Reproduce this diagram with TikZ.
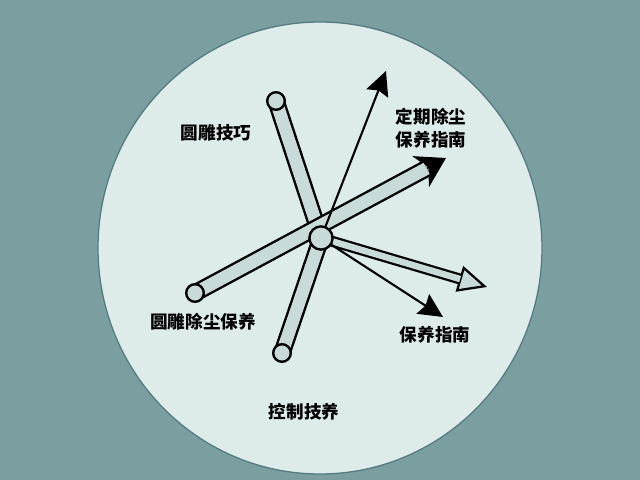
\documentclass[tikz,border=0pt]{standalone}
\usepackage{fontspec}
\newfontfamily\cjk{Noto Sans CJK SC}
\usetikzlibrary{arrows.meta,calc,backgrounds}
\definecolor{bgteal}{HTML}{7B9EA1}
\definecolor{platefill}{HTML}{DDECEB}
\definecolor{plateedge}{HTML}{557A7D}
\definecolor{rodfill}{HTML}{C9DADB}

\begin{document}
\begin{tikzpicture}[x=0.025cm, y=-0.025cm,
    rod/.style={double=rodfill, double distance=9pt, line width=1.7pt},
    thinrod/.style={double=rodfill, double distance=4.6pt, line width=1.6pt},
    pin/.style={circle, draw, line width=1.7pt, fill=rodfill, inner sep=0pt, minimum size=0.44cm},
    lbl/.style={font=\cjk\bfseries\fontsize{12.5}{16.5}\selectfont, align=center},
    pointer/.style={line width=1.5pt, -{Stealth[length=0.6cm, width=0.58cm, inset=0.08cm]}}]
      % hub and rod ends
      \node[pin, minimum size=0.58cm] (0) at (321,238) {};
      \node[pin] (1) at (276,101) {};
      \node[pin] (2) at (195,293) {};
      \node[pin] (3) at (282,353) {};

      % free ends of the arrows
      \coordinate (up) at (386,71);
      \coordinate (ne) at (446,158);
      \coordinate (east) at (487,287);
      \coordinate (se) at (443,317);

      \node[lbl] (skill) at (216,133) {圆雕技巧};
      \node[lbl] (guide) at (431,128) {定期除尘\\保养指南};
      \node[lbl] (care) at (203,322) {圆雕除尘保养};
      \node[lbl] (tips) at (435,335) {保养指南};
      \node[lbl] (ctrl) at (304,412) {控制技养};

      \begin{scope}[on background layer]
        \fill[bgteal] (0,0) rectangle (640,480);
        \draw[plateedge, fill=platefill, line width=0.9pt] (320,248) ellipse [x radius=222, y radius=226];

        \foreach \dest in {1,3}
          \draw[rod] (0.center) -- (\dest.center);

        % thick arrow through the hub
        \draw[line width=1pt, -{Stealth[length=0.72cm, width=0.88cm, inset=0.22cm]}] (2.center) -- (ne);
        \draw[rod] (2.center) -- ($(ne)!0.55cm!(2)$);

        % hollow arrow
        \draw[line width=1.6pt, -{Triangle[length=0.72cm, width=0.66cm, fill=rodfill]}] (0.center) -- (east);
        \draw[thinrod] (0.center) -- ($(east)!0.7cm!(0)$);

        \draw[pointer] (0.center) -- (up);
        \draw[pointer] (0.center) -- (se);
      \end{scope}
\end{tikzpicture}
\end{document}
